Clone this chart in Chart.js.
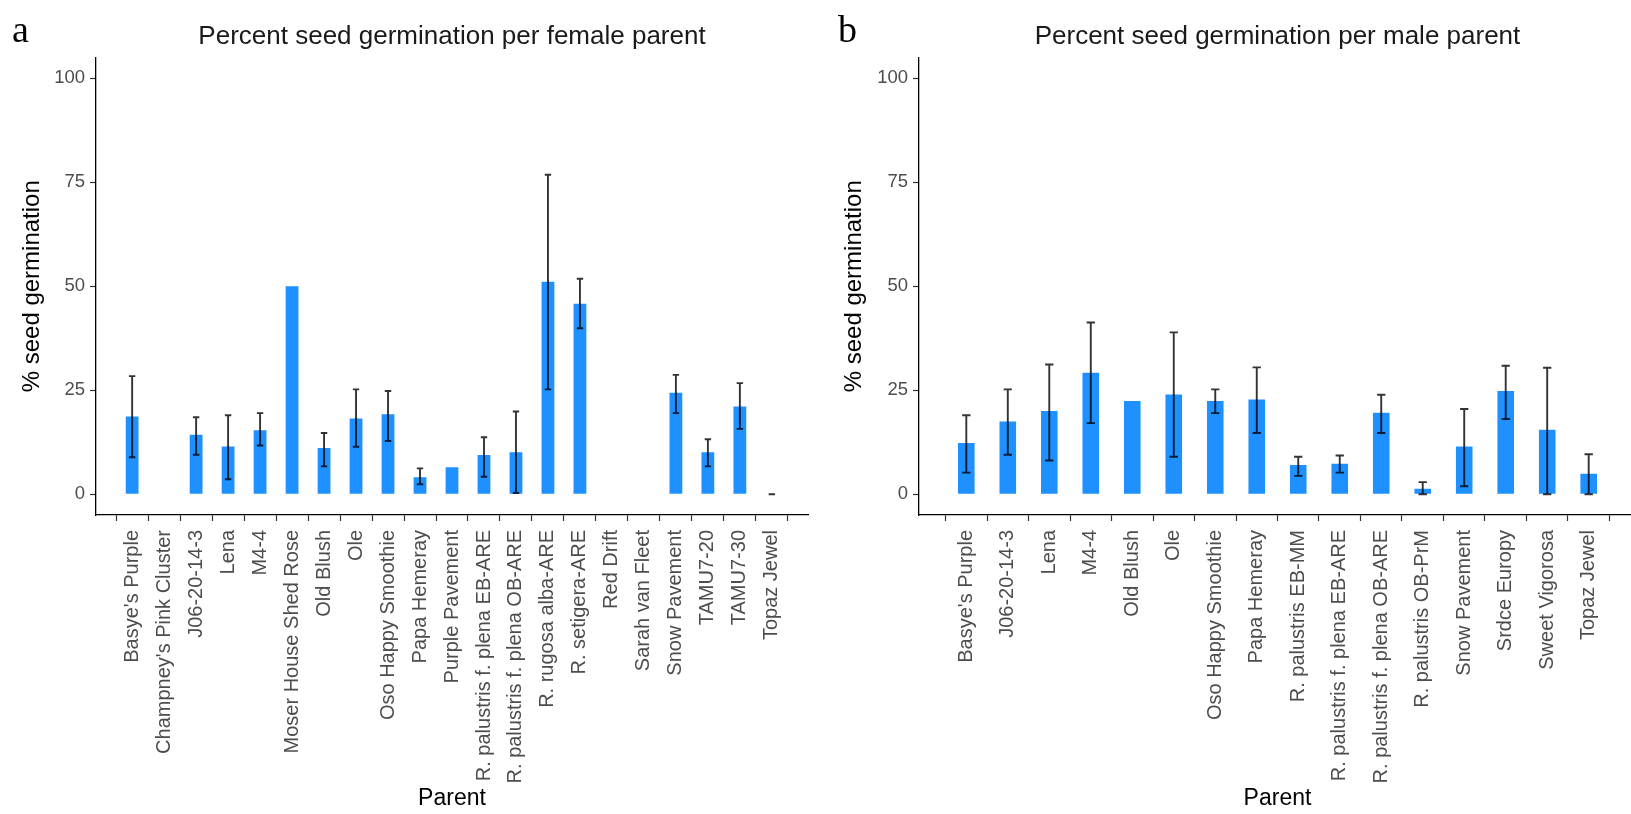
<!DOCTYPE html>
<html>
<head>
<meta charset="utf-8">
<script src="https://cdn.jsdelivr.net/npm/chart.js@4.4.1/dist/chart.umd.min.js"></script>
<style>
  html, body { margin: 0; padding: 0; background: #fff; overflow: hidden; width: 1631px; height: 814px; }
  canvas { position: absolute; top: 0; }
  #femaleChart { left: 0; }
  #maleChart { left: 815px; }
</style>
</head>
<body>
<canvas id="femaleChart" width="815" height="814"></canvas>
<canvas id="maleChart" width="840" height="814"></canvas>
<script>
// Germination by female parent (mean % with lower/upper error limits)
const femaleParents = [
  "Basye's Purple", "Champney's Pink Cluster", "J06-20-14-3", "Lena", "M4-4",
  "Moser House Shed Rose", "Old Blush", "Ole", "Oso Happy Smoothie", "Papa Hemeray",
  "Purple Pavement", "R. palustris f. plena EB-ARE", "R. palustris f. plena OB-ARE",
  "R. rugosa alba-ARE", "R. setigera-ARE", "Red Drift", "Sarah van Fleet",
  "Snow Pavement", "TAMU7-20", "TAMU7-30", "Topaz Jewel"
];
const femaleGermination = [18.7, 0, 14.3, 11.5, 15.4, 50, 11.1, 18.2, 19.2, 4.1, 6.5, 9.4, 10.1, 51.1, 45.8, 0, 0, 24.4, 10.1, 21.1, 0];
const femaleErrLow  = [8.9, null, 9.5, 3.6, 11.7, null, 6.7, 11.4, 12.8, 2.4, null, 4.2, 0.3, 25.2, 39.9, null, null, 19.5, 6.7, 15.7, 0];
const femaleErrHigh = [28.4, null, 18.5, 19.0, 19.5, null, 14.7, 25.2, 24.8, 6.2, null, 13.7, 19.9, 76.8, 51.8, null, null, 28.7, 13.2, 26.7, 0];

// Germination by male parent
const maleParents = [
  "Basye's Purple", "J06-20-14-3", "Lena", "M4-4", "Old Blush", "Ole",
  "Oso Happy Smoothie", "Papa Hemeray", "R. palustris EB-MM",
  "R. palustris f. plena EB-ARE", "R. palustris f. plena OB-ARE",
  "R. palustris OB-PrM", "Snow Pavement", "Srdce Europy", "Sweet Vigorosa", "Topaz Jewel"
];
const maleGermination = [12.3, 17.5, 20.0, 29.2, 22.4, 24.0, 22.4, 22.8, 7.0, 7.3, 19.6, 1.3, 11.5, 24.8, 15.5, 4.9];
const maleErrLow  = [5.2, 9.5, 8.1, 17.1, null, 9.0, 19.5, 14.7, 4.4, 5.2, 14.7, 0, 1.9, 18.1, 0, 0];
const maleErrHigh = [19.0, 25.2, 31.2, 41.3, null, 38.9, 25.2, 30.5, 9.0, 9.3, 23.9, 2.9, 20.5, 30.9, 30.4, 9.6];

const yTicks = [0, 25, 50, 75, 100];

const SANS = "'Liberation Sans', Arial, sans-serif";
const SERIF = "'Liberation Serif', 'Times New Roman', serif";

// Error bars: vertical whisker with caps, drawn through the chart's own scales
const errorBarPlugin = {
  id: 'errorBars',
  afterDatasetsDraw(chart, args, opts) {
    const { ctx, scales: { x, y } } = chart;
    const step = x.getPixelForValue(1) - x.getPixelForValue(0);
    const half = step * opts.capFraction / 2;
    ctx.save();
    ctx.strokeStyle = opts.color;
    ctx.lineWidth = opts.lineWidth;
    opts.low.forEach((lo, i) => {
      const hi = opts.high[i];
      if (lo == null || hi == null) return;
      const px = x.getPixelForValue(i);
      const yLo = y.getPixelForValue(lo);
      const yHi = y.getPixelForValue(hi);
      ctx.beginPath();
      ctx.moveTo(px, yLo); ctx.lineTo(px, yHi);
      ctx.moveTo(px - half, yLo); ctx.lineTo(px + half, yLo);
      ctx.moveTo(px - half, yHi); ctx.lineTo(px + half, yHi);
      ctx.stroke();
    });
    ctx.restore();
  }
};

// Panel letter and title centred over the plotting panel
const panelTextPlugin = {
  id: 'panelText',
  afterDraw(chart, args, opts) {
    const { ctx, chartArea } = chart;
    ctx.save();
    ctx.fillStyle = '#000';
    ctx.textBaseline = 'alphabetic';
    ctx.textAlign = 'left';
    ctx.font = `38px ${SERIF}`;
    ctx.fillText(opts.letter, opts.letterX, 42);
    ctx.font = `26px ${SANS}`;
    ctx.fillStyle = '#1a1a1a';
    ctx.textAlign = 'center';
    ctx.fillText(opts.title, (chartArea.left + chartArea.right) / 2, 44);
    ctx.restore();
  }
};

function makeChart(canvasId, cfg) {
  const n = cfg.labels.length;
  return new Chart(document.getElementById(canvasId), {
    type: 'bar',
    data: {
      datasets: [{
        data: cfg.values.map((v, i) => ({ x: i, y: v })),
        backgroundColor: '#1E90FF',
        borderWidth: 0,
        barPercentage: 0.4,
        categoryPercentage: 1.0
      }]
    },
    options: {
      responsive: false,
      animation: false,
      devicePixelRatio: 1,
      layout: { padding: { left: 0, right: cfg.padRight, top: 57.5, bottom: 0 } },
      plugins: {
        legend: { display: false },
        tooltip: { enabled: false },
        errorBars: { low: cfg.low, high: cfg.high, color: 'rgba(0,0,0,0.8)', lineWidth: 1.9, capFraction: 0.2 },
        panelText: { letter: cfg.letter, letterX: cfg.letterX, title: cfg.title }
      },
      scales: {
        x: {
          type: 'linear',
          min: -0.6,
          max: n - 0.4,
          afterFit(scale) { scale.height = 299; },
          afterBuildTicks(scale) { scale.ticks = cfg.labels.map((_, i) => ({ value: i })); },
          ticks: {
            autoSkip: false,
            minRotation: 90,
            maxRotation: 90,
            padding: 9,
            color: '#4D4D4D',
            font: { family: SANS, size: 20 },
            callback: (v) => cfg.labels[v]
          },
          grid: { display: true, drawOnChartArea: false, drawTicks: true, tickLength: 6, tickColor: '#333', tickWidth: 1.2 },
          border: { display: true, color: '#000', width: 1.3 },
          title: {
            display: true,
            text: 'Parent',
            color: '#000',
            font: { family: SANS, size: 23 },
            padding: { top: 0, bottom: 2 }
          }
        },
        y: {
          min: -5,
          max: 105,
          afterFit(scale) { scale.width = cfg.yWidth; },
          afterBuildTicks(scale) { scale.ticks = yTicks.map(v => ({ value: v })); },
          ticks: {
            padding: 5,
            color: '#4D4D4D',
            font: { family: SANS, size: 18.5 }
          },
          grid: { display: true, drawOnChartArea: false, drawTicks: true, tickLength: 6, tickColor: '#333', tickWidth: 1.2 },
          border: { display: true, color: '#000', width: 1.3 },
          title: {
            display: true,
            text: '% seed germination',
            color: '#000',
            font: { family: SANS, size: 24 },
            padding: { top: cfg.yTitlePad, bottom: 0 }
          }
        }
      }
    },
    plugins: [errorBarPlugin, panelTextPlugin]
  });
}

makeChart('femaleChart', {
  labels: femaleParents, values: femaleGermination, low: femaleErrLow, high: femaleErrHigh,
  letter: 'a', letterX: 12, title: 'Percent seed germination per female parent',
  yWidth: 96, yTitlePad: 17.6, padRight: 7
});

makeChart('maleChart', {
  labels: maleParents, values: maleGermination, low: maleErrLow, high: maleErrHigh,
  letter: 'b', letterX: 23, title: 'Percent seed germination per male parent',
  yWidth: 104, yTitlePad: 24.6, padRight: 19
});
</script>
</body>
</html>
